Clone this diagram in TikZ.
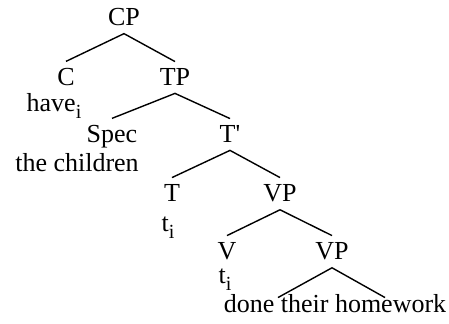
\documentclass[tikz,border=0pt]{standalone}
\usepackage{fontspec}
\setmainfont{Liberation Serif}
\newcommand{\idx}[1]{\raisebox{-3.5pt}{\fontsize{10}{10}\selectfont #1}}
\begin{document}
\begin{tikzpicture}[x=0.5pt,y=-0.5pt,
		every node/.style={anchor=base, inner sep=3.5pt, font=\fontsize{13}{15}\selectfont},
		branch/.style={line width=0.7pt}]
		\useasboundingbox (0,0) rectangle (449,324);
		\node (cp) at (124,26) {CP};
		\node (c) at (66,86) {C};
		\node (tp) at (175,86) {TP};
		\node (have) at (54,112) {have\idx{i}};
		\node (spec) at (112,143) {Spec};
		\node (tbar) at (230,143) {T\textquotesingle};
		\node (children) at (77,172) {the children};
		\node (t) at (172,202) {T};
		\node (vp1) at (280,202) {VP};
		\node (ti1) at (168,232) {t\idx{i}};
		\node (v) at (227,260) {V};
		\node (vp2) at (332,260) {VP};
		\node (ti2) at (225,284) {t\idx{i}};
		\node (done) at (335,313) {done their homework};
		\draw[branch] (c.north) -- (cp.south) -- (tp.north);
		\draw[branch] (spec.north) -- (tp.south) -- (tbar.north);
		\draw[branch] (t.north) -- (tbar.south) -- (vp1.north);
		\draw[branch] (v.north) -- (vp1.south) -- (vp2.north);
		\draw[branch] ([xshift=-28.5pt,yshift=-5pt]done.north) -- (vp2.south) -- ([xshift=25pt,yshift=-5pt]done.north);
	\end{tikzpicture}
\end{document}
